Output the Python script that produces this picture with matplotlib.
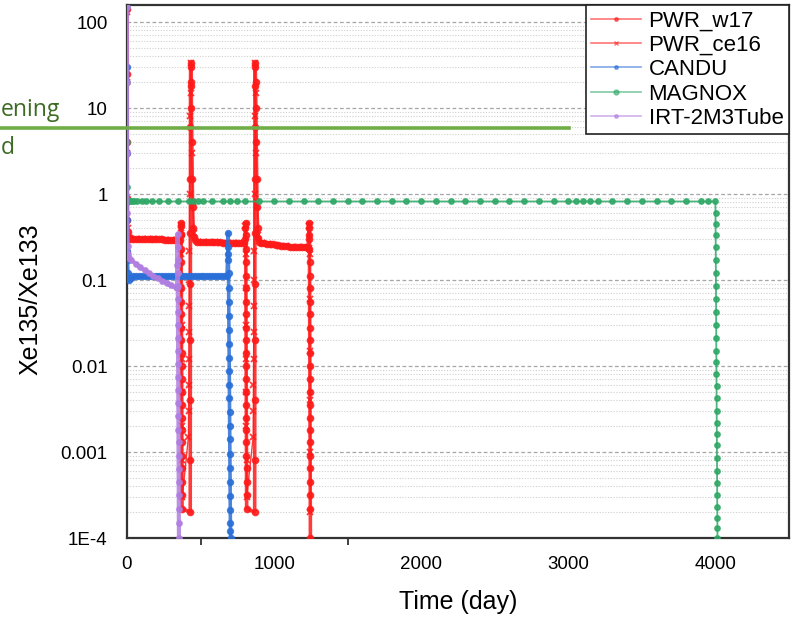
import matplotlib
matplotlib.use('Agg')
import matplotlib.pyplot as plt
from matplotlib.lines import Line2D
from matplotlib.ticker import FixedLocator, NullFormatter

plt.rcParams['font.family'] = ['Liberation Sans', 'DejaVu Sans']

# ---- data (time in days, ratio Xe135/Xe133) ----
w17_t = [0, 0.5, 1, 2, 3, 5, 8, 12, 20, 40, 60, 80, 100, 120, 140, 160, 180, 200, 220, 240, 260, 280, 300, 320, 340, 360,
         364, 366, 368, 368.3, 368.6, 368.9, 369.2, 369.5, 369.8, 370.1, 370.4, 370.7, 371, 371.3, 371.6, 371.9, 372.2,
         372.5, 372.8, 373.1, 373.4, 373.7, 374, 374.3, 374.6,
         430, 430.2, 430.4, 430.6, 430.8, 431, 431.3, 431.6, 432, 433, 434, 436, 438, 440, 443, 446, 450, 455, 462, 475,
         495, 515, 535, 555, 575, 595, 615, 635, 655, 675, 695, 715, 735, 755, 775, 795,
         803, 805, 807, 807.3, 807.6, 807.9, 808.2, 808.5, 808.8, 809.1, 809.4, 809.7, 810, 810.3, 810.6, 810.9, 811.2,
         811.5, 811.8, 812.1, 812.4, 812.7, 813, 813.3, 813.6,
         868, 868.2, 868.4, 868.6, 868.8, 869, 869.3, 869.6, 870, 871, 872, 874, 876, 878, 881, 884, 888, 893, 900, 912,
         930, 950, 970, 990, 1010, 1030, 1050, 1070, 1090, 1110, 1130, 1150, 1170, 1190, 1210, 1230,
         1236, 1238, 1240, 1240.3, 1240.6, 1240.9, 1241.2, 1241.5, 1241.8, 1242.1, 1242.4, 1242.7, 1243, 1243.3, 1243.6,
         1243.9, 1244.2, 1244.5, 1244.8, 1245.1, 1245.4, 1245.7, 1246, 1246.3, 1246.6, 1246.9]
w17_v = [140, 25, 4, 0.9, 0.5, 0.36, 0.32, 0.31, 0.30, 0.30, 0.30, 0.30, 0.30, 0.30, 0.30, 0.30, 0.30, 0.30, 0.30, 0.30,
         0.295, 0.295, 0.29, 0.29, 0.29, 0.29,
         0.34, 0.42, 0.46, 0.33, 0.23, 0.16, 0.11, 0.08, 0.055, 0.04, 0.028, 0.02, 0.014, 0.01, 0.007, 0.005, 0.0035,
         0.0025, 0.0018, 0.0013, 0.0009, 0.00065, 0.00045, 0.00032, 0.00022,
         0.0002, 0.0008, 0.004, 0.02, 0.09, 0.35, 1.5, 6, 18, 33, 30, 20, 10, 4, 1.5, 0.7, 0.4, 0.32, 0.29, 0.28,
         0.28, 0.28, 0.28, 0.28, 0.275, 0.275, 0.275, 0.275, 0.27, 0.27, 0.27, 0.27, 0.27, 0.27, 0.27, 0.27,
         0.30, 0.40, 0.46, 0.33, 0.23, 0.16, 0.11, 0.08, 0.055, 0.04, 0.028, 0.02, 0.014, 0.01, 0.007, 0.005, 0.0035,
         0.0025, 0.0018, 0.0013, 0.0009, 0.00065, 0.00045, 0.00032, 0.00022,
         0.0002, 0.0008, 0.004, 0.02, 0.09, 0.35, 1.5, 6, 18, 33, 30, 20, 10, 4, 1.5, 0.7, 0.4, 0.31, 0.28, 0.27,
         0.27, 0.265, 0.26, 0.26, 0.255, 0.255, 0.25, 0.25, 0.25, 0.245, 0.245, 0.24, 0.24, 0.24, 0.24, 0.235,
         0.30, 0.40, 0.46, 0.33, 0.23, 0.16, 0.11, 0.08, 0.055, 0.04, 0.028, 0.02, 0.014, 0.01, 0.007, 0.005, 0.0035,
         0.0025, 0.0018, 0.0013, 0.0009, 0.00065, 0.00045, 0.00032, 0.00022, 0.0001]

ce16_t = [0, 0.5, 1, 2, 4, 8, 20, 60, 100, 140, 180, 220, 260, 300, 340, 362, 366, 368, 369, 370, 371, 372, 373, 374,
          375, 376, 418, 419, 420, 421, 422, 423, 424, 425, 427, 430, 433, 436, 440, 446, 455, 480, 520, 560, 600,
          640, 680, 720, 760, 798, 804, 806, 807, 808, 809, 810, 811, 812, 813, 814,
          858, 859, 860, 861, 862, 863, 864, 865, 867, 869, 871, 874, 878, 884, 893, 920, 960, 1000, 1040, 1080,
          1120, 1160, 1200, 1234, 1239, 1241, 1242, 1243, 1244, 1245, 1246, 1247]
ce16_v = [130, 20, 3, 0.8, 0.4, 0.32, 0.31, 0.30, 0.30, 0.30, 0.30, 0.30, 0.295, 0.29, 0.29, 0.29, 0.40, 0.44, 0.2,
          0.08, 0.03, 0.012, 0.005, 0.002, 0.0008, 0.0003, 0.0015, 0.003, 0.006, 0.012, 0.025, 0.05, 0.1, 0.22, 1, 8,
          33, 15, 3, 0.8, 0.35, 0.28, 0.28, 0.275, 0.275, 0.27, 0.27, 0.27, 0.27, 0.27, 0.42, 0.44, 0.2, 0.08, 0.03,
          0.012, 0.005, 0.002, 0.0008, 0.0003,
          0.0015, 0.003, 0.006, 0.012, 0.025, 0.05, 0.1, 0.22, 1, 8, 33, 15, 3, 0.8, 0.33, 0.27, 0.26, 0.255, 0.25,
          0.25, 0.245, 0.24, 0.24, 0.235, 0.42, 0.44, 0.2, 0.06, 0.015, 0.004, 0.001, 0.0002]

candu_t = [0, 0.5, 1, 2, 4, 7, 10, 15, 25, 40, 60, 80, 100, 120, 140, 160, 180, 200, 220, 240, 260, 280, 300, 320,
           340, 360, 380, 400, 420, 440, 460, 480, 500, 520, 540, 560, 580, 600, 620, 640, 660, 680, 685, 688,
           689, 689.7, 690.4, 691.1, 691.8, 692.5, 693.2, 693.9, 694.6, 695.3, 696, 696.7, 697.4, 698.1, 698.8,
           699.5, 700.2, 700.9, 701.6, 702.3, 703, 703.7, 704.4]
candu_v = [30, 3, 0.5, 0.22, 0.17, 0.12, 0.105, 0.10, 0.105, 0.11, 0.11, 0.11, 0.11, 0.11, 0.11, 0.11, 0.11, 0.11,
           0.11, 0.11, 0.11, 0.11, 0.11, 0.11, 0.11, 0.11, 0.11, 0.11, 0.11, 0.11, 0.11, 0.11, 0.11, 0.11, 0.11,
           0.11, 0.11, 0.11, 0.11, 0.11, 0.11, 0.11, 0.2, 0.35,
           0.24, 0.17, 0.12, 0.08, 0.055, 0.038, 0.026, 0.018, 0.0125, 0.0087, 0.006, 0.0042, 0.0029, 0.002,
           0.0014, 0.00095, 0.00066, 0.00045, 0.00031, 0.00021, 0.00015, 0.00012, 0.0001]

magnox_t = [0, 0.5, 1, 2, 4, 10, 20, 35, 50, 70, 100, 130, 170, 220, 280, 350, 420, 450, 480, 520, 580, 650,
            700, 750, 800, 900, 1000, 1100, 1200, 1300, 1400, 1500, 1600, 1700, 1800, 1900, 2000, 2100, 2200,
            2300, 2400, 2500, 2600, 2700, 2800, 2900, 3000, 3050, 3100, 3150, 3200, 3300, 3400, 3500, 3600, 3700,
            3800, 3900, 3950, 4000,
            4000.5, 4001, 4001.5, 4002, 4002.5, 4003, 4003.5, 4004, 4004.5, 4005, 4005.5, 4006, 4006.5, 4007,
            4007.5, 4008, 4008.5, 4009, 4009.5, 4010, 4010.5, 4011, 4011.5, 4012, 4012.5, 4013, 4013.5, 4014]
magnox_v = [150, 20, 4, 1.2, 0.85, 0.82, 0.82, 0.82, 0.82, 0.82, 0.82, 0.82, 0.82, 0.82, 0.82, 0.82, 0.82, 0.82,
            0.82, 0.82, 0.82, 0.82, 0.82, 0.82, 0.82, 0.82, 0.82, 0.82, 0.82, 0.82, 0.82, 0.82, 0.82, 0.82, 0.82,
            0.82, 0.82, 0.82, 0.82, 0.82, 0.82, 0.82, 0.82, 0.82, 0.82, 0.82, 0.82, 0.82, 0.82, 0.82, 0.82, 0.82,
            0.82, 0.82, 0.82, 0.82, 0.82, 0.82, 0.82, 0.82,
            0.6, 0.45, 0.33, 0.24, 0.17, 0.12, 0.085, 0.06, 0.043, 0.03, 0.021, 0.015, 0.011, 0.008, 0.0058,
            0.0042, 0.003, 0.0022, 0.0016, 0.0012, 0.00085, 0.0006, 0.00044, 0.00032, 0.00023, 0.00017, 0.00013,
            0.0001]

irt_t = [0, 0.5, 1, 2, 4, 8, 15, 30, 60, 90, 120, 150, 180, 210, 240, 270, 300, 330, 340, 342, 344,
         344.4, 344.8, 345.2, 345.6, 346, 346.4, 346.8, 347.2, 347.6, 348, 348.4, 348.8, 349.2, 349.6, 350,
         350.4, 350.8, 351.2, 351.6, 352, 352.4, 352.8, 353.2]
irt_v = [150, 20, 3, 0.6, 0.25, 0.2, 0.18, 0.17, 0.155, 0.14, 0.13, 0.12, 0.11, 0.105, 0.098, 0.092, 0.087, 0.082,
         0.08, 0.15, 0.34,
         0.24, 0.17, 0.12, 0.085, 0.06, 0.042, 0.03, 0.021, 0.015, 0.0105, 0.0074, 0.0052, 0.0037, 0.0026, 0.0018,
         0.0013, 0.0009, 0.00064, 0.00045, 0.00032, 0.00022, 0.00015, 0.0001]

names = ['PWR_w17', 'PWR_ce16', 'CANDU', 'MAGNOX', 'IRT-2M3Tube']
colors = ['#ff1a1a', '#ff1a1a', '#2a6fd8', '#2fa866', '#b07ee0']

x_ticks = [0, 1000, 2000, 3000, 4000]
y_ticks = [1e-4, 1e-3, 1e-2, 1e-1, 1, 10, 100]
y_labels = ['1E-4', '0.001', '0.01', '0.1', '1', '10', '100']

fig = plt.figure(figsize=(7.96, 6.22), dpi=100)
ax = fig.add_axes([0.1595, 0.135, 0.8317, 0.857])

series = [(w17_t, w17_v, 'o', 4.2), (ce16_t, ce16_v, 'x', 4.5), (candu_t, candu_v, 'o', 4.0),
          (magnox_t, magnox_v, 'o', 3.6), (irt_t, irt_v, 'o', 3.6)]
lws = [2.6, 1.0, 2.6, 1.3, 3.0]
for (t, v, m, ms), c, lw, nm in zip(series, colors, lws, names):
    ax.plot(t, v, '-', color=c, alpha=0.85, lw=lw, marker=m, ms=ms, mfc=c, mec=c, mew=1.3, zorder=3)

ax.set_yscale('log')
ax.set_ylim(1e-4, 158)
ax.set_xlim(0, 4500)

ax.yaxis.set_major_locator(FixedLocator(y_ticks))
ax.set_yticklabels(y_labels)
ax.yaxis.set_minor_locator(FixedLocator([m * 10.0 ** e for e in range(-4, 3) for m in range(2, 10)]))
ax.yaxis.set_minor_formatter(NullFormatter())
ax.tick_params(axis='y', which='both', length=0, pad=14, labelsize=13.5)

ax.set_xticks(x_ticks)
ax.set_xticks([500, 1500], minor=True)
ax.tick_params(axis='x', which='major', length=0, pad=13, labelsize=13.5)
ax.tick_params(axis='x', which='minor', length=5, width=1.3, direction='out', color='#333333')

ax.grid(which='major', axis='y', color='#a6a6a6', lw=0.9, ls=(0, (3, 2)))
ax.grid(which='minor', axis='y', color='#cfcfcf', lw=0.8, ls=(0, (1, 1.5)))
ax.set_axisbelow(True)

for s in ax.spines.values():
    s.set_color('#333333')
    s.set_linewidth(1.6)

ax.set_xlabel('Time (day)', fontsize=18, labelpad=12)
ax.set_ylabel('Xe135/Xe133', fontsize=18)
ax.yaxis.set_label_coords(-0.127, 0.448)

handles = []
for c, m in zip(colors, ['.', 'x', '.', 'o', '.']):
    handles.append(Line2D([], [], color=c, alpha=0.6, lw=1.2, marker=m, ms=3.5 if m != '.' else 5,
                          mfc=c, mec=c))
leg = ax.legend(handles, names, loc='upper right', bbox_to_anchor=(1, 1), borderaxespad=0,
                fancybox=False, framealpha=1, edgecolor='#222222', fontsize=16, handlelength=2.25,
                handletextpad=0.33, labelspacing=0.15, borderpad=0.25)
leg.get_frame().set_linewidth(1.2)
leg.set_zorder(5)

# overlay from the slide
fig.add_artist(Line2D([0, 569 / 796], [1 - 128 / 622] * 2, transform=fig.transFigure,
                      color='#70ad47', lw=2.6, zorder=20))
fig.text(0.001, 1 - 110 / 622, 'ening', color='#3d6b24', fontsize=16.5, family='Open Sans',
         va='center', ha='left')
fig.text(0.001, 1 - 148 / 622, 'd', color='#3d6b24', fontsize=16.5, family='Open Sans',
         va='center', ha='left')

fig.savefig('out.png', dpi=100)
